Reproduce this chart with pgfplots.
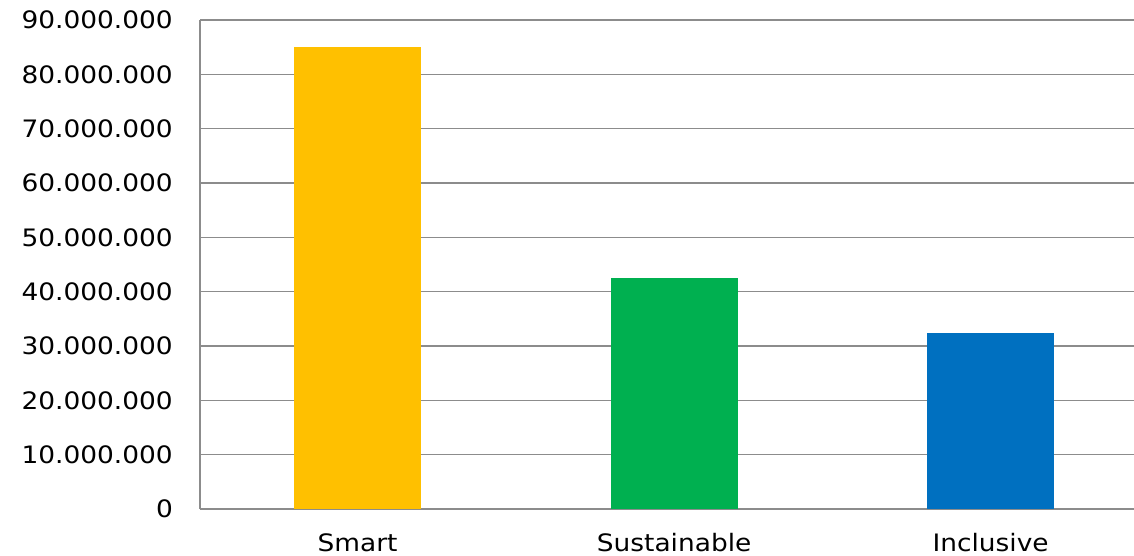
\documentclass[border=0pt]{standalone}
\usepackage{fontspec}
\setmainfont{DejaVu Sans}[FakeStretch=1.1]
\usepackage{pgfplots}
\pgfplotsset{compat=1.18}
\definecolor{smart}{HTML}{FFC000}
\definecolor{sustainable}{HTML}{00B050}
\definecolor{inclusive}{HTML}{0070C0}
\definecolor{gridgray}{HTML}{8C8C8C}

\begin{document}
\begin{tikzpicture}
\useasboundingbox (0,0) rectangle (1134bp,556bp);
\begin{axis}[
    at={(200bp,47bp)}, anchor=south west,
    width=934bp, height=489bp, scale only axis,
    ybar, bar width=127bp, bar shift=0pt,
    xmin=-0.498, xmax=2.453,
    ymin=0, ymax=90000000,
    ytick={0,10000000,...,90000000},
    scaled y ticks=false,
    xtick={0,1,2},
    xticklabels={Smart, Sustainable, Inclusive},
    major tick length=0pt,
    axis x line*=bottom, axis y line*=left,
    axis line style={-, draw=gridgray, line width=1.5bp},
    ymajorgrids, grid style={draw=gridgray, line width=1.5bp},
    /pgf/number format/.cd, fixed, precision=0, 1000 sep={.}, assume math mode=true,
    /pgfplots/.cd,
    tick label style={font=\fontsize{24bp}{28bp}\selectfont, text=black},
    yticklabel style={inner sep=0pt, xshift=-27bp},
    xticklabel style={inner sep=0pt, yshift=-24bp},
]
\addplot[fill=smart, draw=none] coordinates {(0,85000000)};
\addplot[fill=sustainable, draw=none] coordinates {(1,42500000)};
\addplot[fill=inclusive, draw=none] coordinates {(2,32400000)};
\end{axis}
\end{tikzpicture}
\end{document}
